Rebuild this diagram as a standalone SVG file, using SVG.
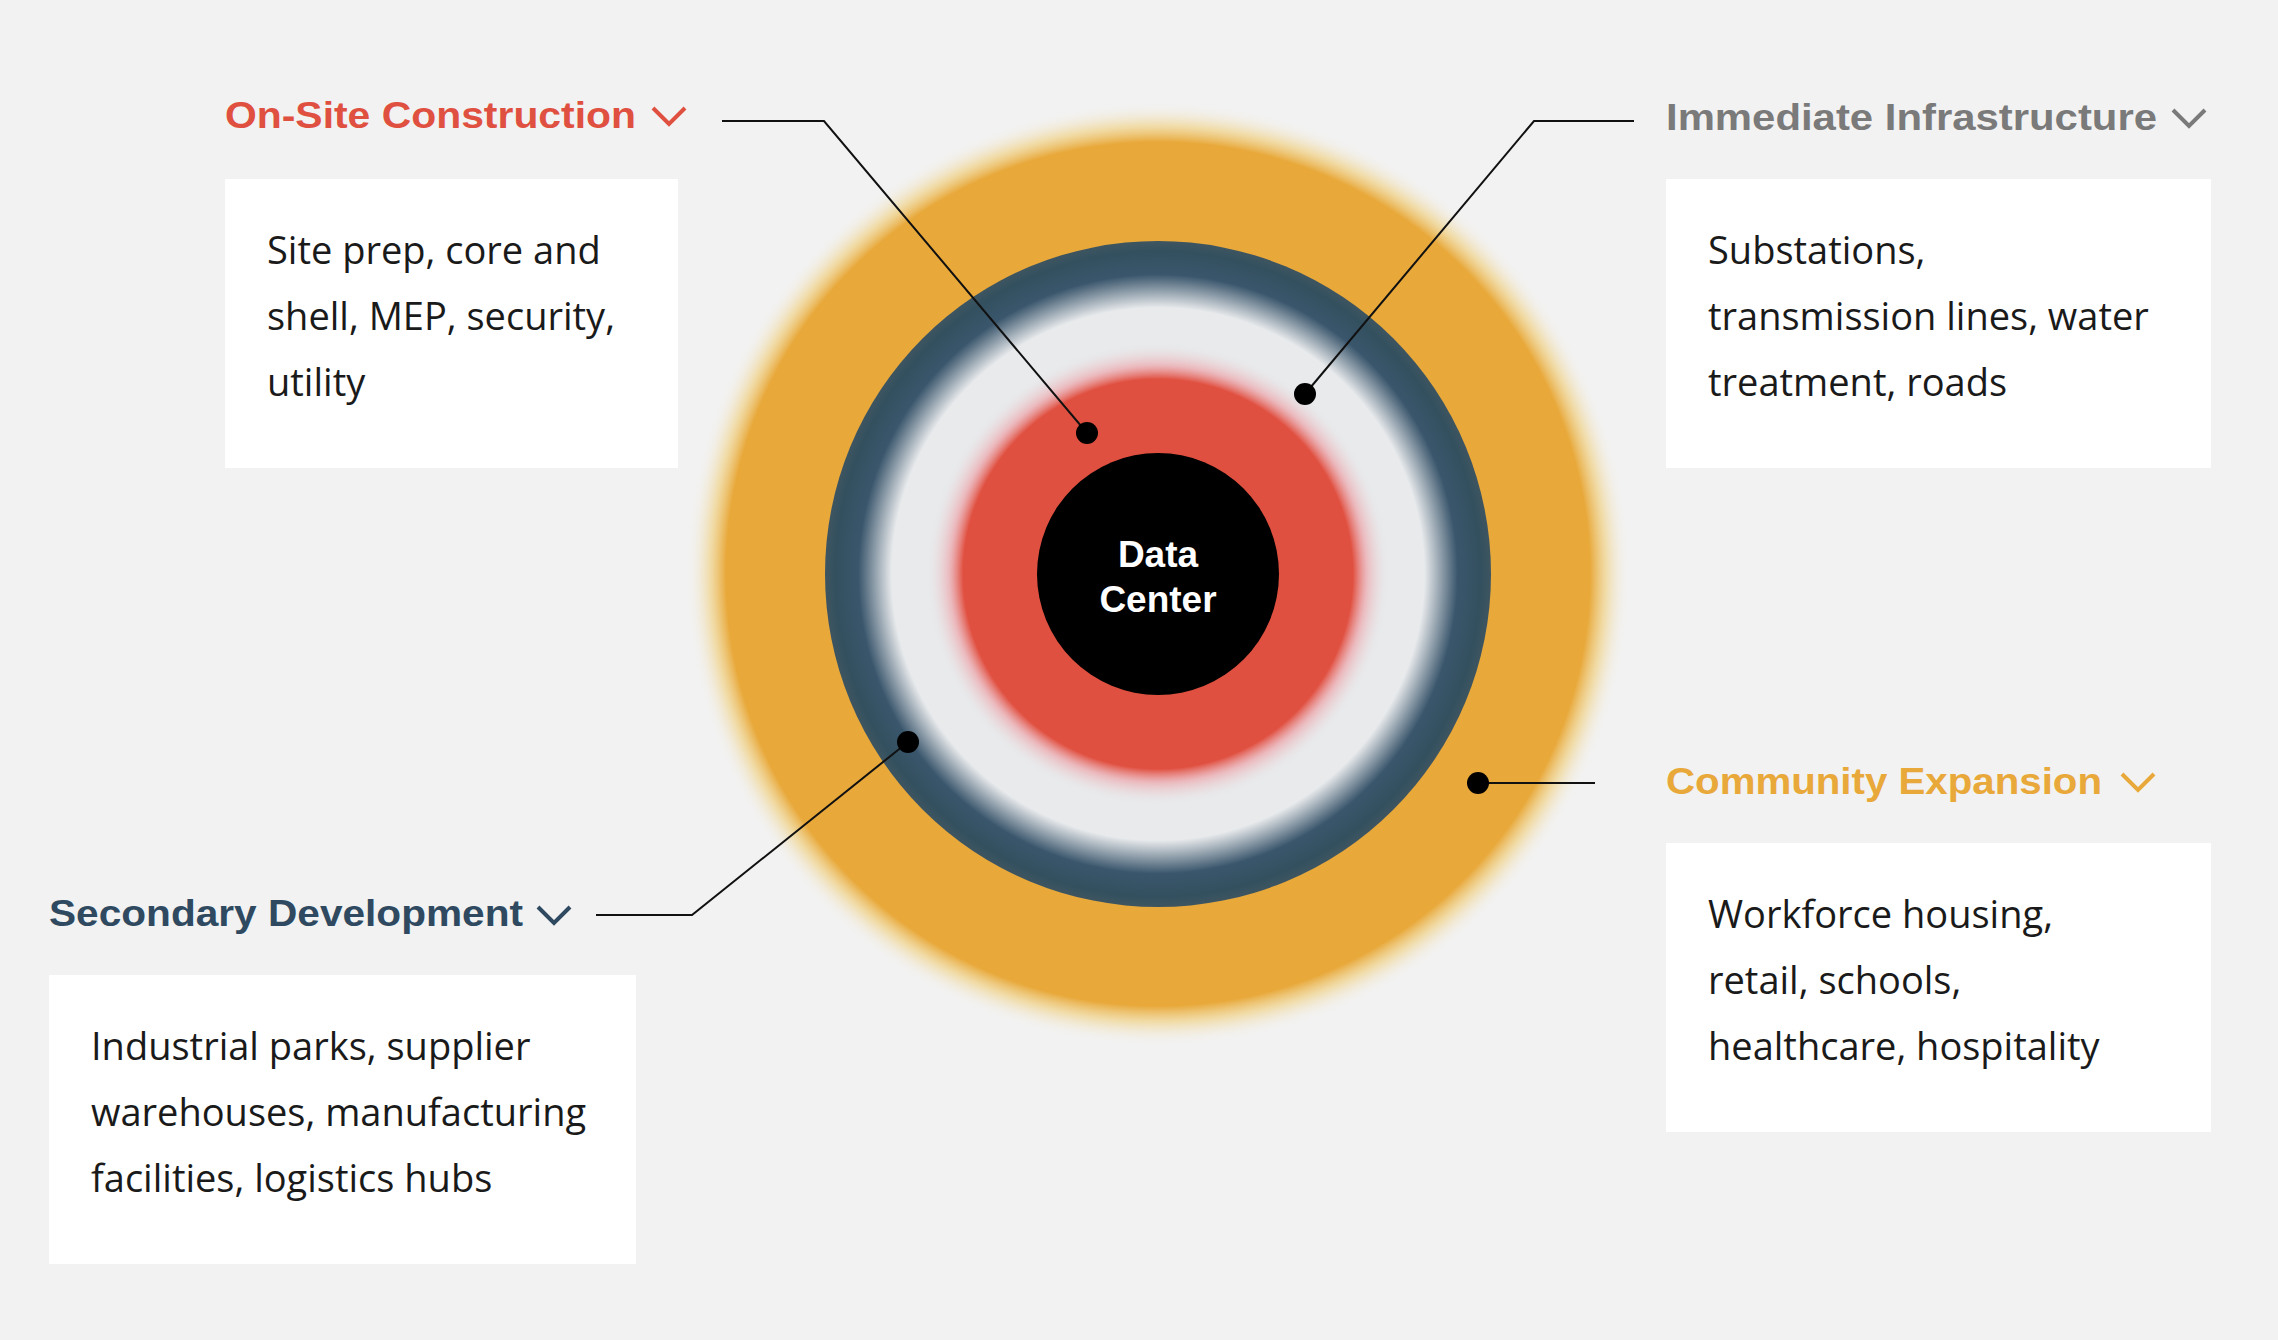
<svg xmlns="http://www.w3.org/2000/svg" width="2278" height="1340" viewBox="0 0 2278 1340">
<style>
.t{font-family:"Liberation Sans",Arial,sans-serif;font-weight:bold;font-size:37px}
.b{font-family:"Open Sans","Liberation Sans",sans-serif;font-size:38px;fill:#1a1a1a}
.box{fill:#fff}
.ln{fill:none;stroke:#111;stroke-width:2}
.ch{fill:none;stroke-width:4}
</style>
<defs>
<radialGradient id="og" cx="0.5" cy="0.5" r="0.5">
<stop offset="0" stop-color="#E8A83A"/><stop offset="0.915" stop-color="#E8A83A"/><stop offset="0.95" stop-color="#F0CE7A" stop-opacity="0.6"/><stop offset="1" stop-color="#F2F2F2" stop-opacity="0"/>
</radialGradient>
<radialGradient id="bg" cx="0.5" cy="0.5" r="0.5">
<stop offset="0" stop-color="#E8EAEC"/><stop offset="0.8" stop-color="#E8EAEC"/><stop offset="0.9" stop-color="#3A566C"/><stop offset="0.97" stop-color="#33505F"/><stop offset="1" stop-color="#3E5560"/>
</radialGradient>
<radialGradient id="rg" cx="0.5" cy="0.5" r="0.5">
<stop offset="0" stop-color="#E05040"/><stop offset="0.84" stop-color="#E05040"/><stop offset="0.9" stop-color="#EE8A90" stop-opacity="0.5"/><stop offset="1" stop-color="#E8EAEC" stop-opacity="0"/>
</radialGradient>
</defs>
<rect width="2278" height="1340" fill="#F2F2F2"/>
<g id="rings">
<circle cx="1158" cy="574" r="472" fill="url(#og)"/>
<circle cx="1158" cy="574" r="333" fill="url(#bg)"/>
<circle cx="1158" cy="574" r="232" fill="url(#rg)"/>
</g>
<g id="center">
<circle cx="1158" cy="574" r="121" fill="#000"/>
<text x="1158" y="567" text-anchor="middle" class="t" fill="#fff" font-size="34">Data</text>
<text x="1158" y="612" text-anchor="middle" class="t" fill="#fff" font-size="34">Center</text>
</g>
<g id="connectors">
<polyline class="ln" points="722,121 824,121 1087,433"/>
<circle cx="1087" cy="433" r="11" fill="#000"/>
<polyline class="ln" points="1634,121 1534,121 1305,394"/>
<circle cx="1305" cy="394" r="11" fill="#000"/>
<polyline class="ln" points="596,915 692,915 908,742"/>
<circle cx="908" cy="742" r="11" fill="#000"/>
<polyline class="ln" points="1595,783 1478,783"/>
<circle cx="1478" cy="783" r="11" fill="#000"/>
</g>
<g id="onsite">
<text x="225" y="128" class="t" fill="#E05040" textLength="411" lengthAdjust="spacingAndGlyphs">On-Site Construction</text>
<polyline class="ch" stroke="#E05040" points="653,108 669,124 685,108"/>
<rect class="box" x="225" y="179" width="453" height="289"/>
<text class="b" x="267" y="264">Site prep, core and</text>
<text class="b" x="267" y="330">shell, MEP, security,</text>
<text class="b" x="267" y="396">utility</text>
</g>
<g id="immediate">
<text x="1666" y="130" class="t" fill="#7a7a7a" textLength="491" lengthAdjust="spacingAndGlyphs">Immediate Infrastructure</text>
<polyline class="ch" stroke="#7a7a7a" points="2173,110 2189,126 2205,110"/>
<rect class="box" x="1666" y="179" width="545" height="289"/>
<text class="b" x="1708" y="264">Substations,</text>
<text class="b" x="1708" y="330">transmission lines, water</text>
<text class="b" x="1708" y="396">treatment, roads</text>
</g>
<g id="community">
<text x="1666" y="794" class="t" fill="#E8A83A" textLength="436" lengthAdjust="spacingAndGlyphs">Community Expansion</text>
<polyline class="ch" stroke="#E8A83A" points="2122,774 2138,790 2154,774"/>
<rect class="box" x="1666" y="843" width="545" height="289"/>
<text class="b" x="1708" y="928">Workforce housing,</text>
<text class="b" x="1708" y="994">retail, schools,</text>
<text class="b" x="1708" y="1060">healthcare, hospitality</text>
</g>
<g id="secondary">
<text x="49" y="926" class="t" fill="#2F4A60" textLength="474" lengthAdjust="spacingAndGlyphs">Secondary Development</text>
<polyline class="ch" stroke="#2F4A60" points="538,907 554,923 570,907"/>
<rect class="box" x="49" y="975" width="587" height="289"/>
<text class="b" x="91" y="1060">Industrial parks, supplier</text>
<text class="b" x="91" y="1126">warehouses, manufacturing</text>
<text class="b" x="91" y="1192">facilities, logistics hubs</text>
</g>
</svg>
